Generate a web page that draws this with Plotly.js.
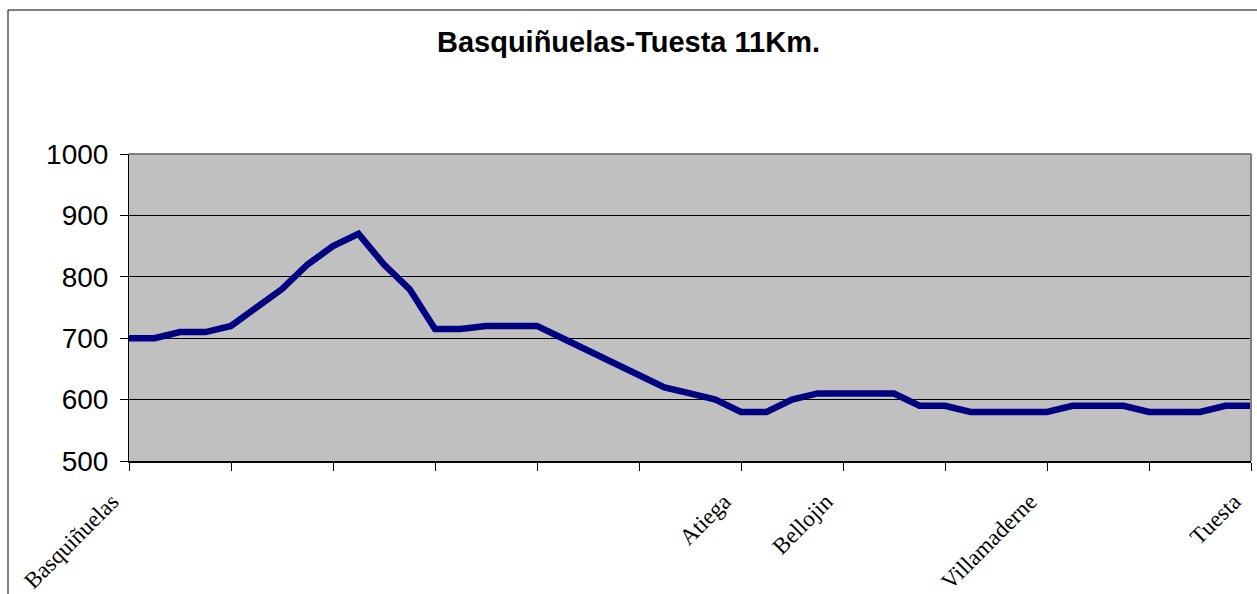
<!DOCTYPE html>
<html>
<head>
<meta charset="utf-8">
<script src="https://cdn.plot.ly/plotly-3.0.1.min.js"></script>
<style>
html,body{margin:0;padding:0;background:#fff;}
#chart{width:1257px;height:594px;}
</style>
</head>
<body>
<div id="chart"></div>
<script>
// distance along route (km) and altitude (m)
const distanceKm = [0,0.25,0.5,0.75,1,1.25,1.5,1.75,2,2.25,2.5,2.75,3,3.25,3.5,3.75,4,4.25,4.5,4.75,5,5.25,5.5,5.75,6,6.25,6.5,6.75,7,7.25,7.5,7.75,8,8.25,8.5,8.75,9,9.25,9.5,9.75,10,10.25,10.5,10.75,11];
const altitude = [700,700,710,710,720,750,780,820,850,870,820,780,715,715,720,720,720,700,680,660,640,620,610,600,580,580,600,610,610,610,610,590,590,580,580,580,580,590,590,590,580,580,580,590,590];
const tickKm = [0,1,2,3,4,5,6,7,8,9,10,11];
const tickNames = ['Basquiñuelas','','','','','','Atiega','Bellojin','','Villamaderne','','Tuesta'];
const yTicks = [500,600,700,800,900,1000];
const chartTitle = 'Basquiñuelas-Tuesta 11Km.';

const L = 129, R = 6, T = 154, B = 133;
const W = 1257 - L - R, H = 594 - T - B;

const trace = {
  x: distanceKm, y: altitude, type: 'scatter', mode: 'lines',
  line: {color: '#000080', width: 6.5, shape: 'linear'},
  hoverinfo: 'x+y'
};

const layout = {
  width: 1257, height: 594,
  margin: {l: L, r: R, t: T, b: B, pad: 0},
  paper_bgcolor: '#ffffff',
  plot_bgcolor: '#c0c0c0',
  showlegend: false,
  title: {
    text: '<b>' + chartTitle + '</b>',
    font: {family: 'Liberation Sans, Arial, sans-serif', size: 29, color: '#000'},
    x: 0.5, xref: 'container', xanchor: 'center',
    y: 1 - 42/594, yref: 'container', yanchor: 'middle'
  },
  xaxis: {
    range: [0, 11], tickmode: 'array', tickvals: tickKm, ticktext: tickNames,
    tickangle: -45, ticks: 'outside', ticklen: 8, tickcolor: '#000', tickwidth: 1,
    showgrid: false, zeroline: false, showline: true, linecolor: '#000', linewidth: 2,
    tickfont: {family: 'Liberation Serif, Times New Roman, serif', size: 23, color: '#000'},
    ticklabeloverflow: 'allow',
    ticklabelstandoff: 8,
    ticklabelshift: -17,
    fixedrange: true
  },
  yaxis: {
    range: [500, 1000], tickmode: 'array', tickvals: yTicks,
    ticks: 'outside', ticklen: 8, tickcolor: '#000', tickwidth: 1,
    showgrid: true, gridcolor: '#000', gridwidth: 1, zeroline: false,
    showline: true, linecolor: '#000', linewidth: 1,
    tickfont: {family: 'Liberation Sans, Arial, sans-serif', size: 28, color: '#000'},
    ticklabelstandoff: 6,
    fixedrange: true
  },
  shapes: [
    // plot area top and right border (grey)
    {type: 'line', xref: 'paper', yref: 'paper', x0: 0, x1: 1, y0: 1, y1: 1, line: {color: '#808080', width: 2}, layer: 'above'},
    {type: 'line', xref: 'paper', yref: 'paper', x0: 1, x1: 1, y0: 0, y1: 1, line: {color: '#808080', width: 2}, layer: 'above'},
    // outer chart border
    {type: 'rect', xref: 'paper', yref: 'paper',
     x0: (8 - L) / W, x1: 1.2, y0: -1, y1: (T + H - 10) / H,
     line: {color: '#000', width: 1}, fillcolor: 'rgba(0,0,0,0)', layer: 'above'}
  ]
};

Plotly.newPlot('chart', [trace], layout, {staticPlot: true, displayModeBar: false});
</script>
</body>
</html>
